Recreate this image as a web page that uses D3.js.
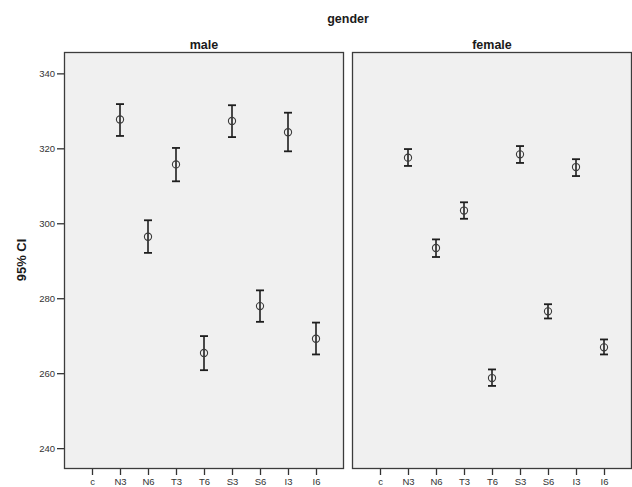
<!DOCTYPE html>
<html>
<head>
<meta charset="utf-8">
<script src="https://cdn.jsdelivr.net/npm/d3@7"></script>
<style>
  html, body { margin: 0; padding: 0; background: #ffffff; }
  svg { display: block; }
  text { font-family: "Liberation Sans", Arial, sans-serif; }
</style>
</head>
<body>
<div id="chart"></div>
<script>
// Categories on the x axis (c has no estimate)
const categories = ["c", "N3", "N6", "T3", "T6", "S3", "S6", "I3", "I6"];
const panels = ["male", "female"];
const yTicks = [240, 260, 280, 300, 320, 340];

// Mean and 95% CI bounds per category, male
const maleMean  = [null, 327.7, 296.4, 315.7, 265.4, 327.3, 277.9, 324.3, 269.2];
const maleLower = [null, 323.3, 292.1, 311.2, 260.8, 323.0, 273.7, 319.2, 265.0];
const maleUpper = [null, 331.8, 300.8, 320.1, 269.9, 331.5, 282.1, 329.5, 273.5];

// Mean and 95% CI bounds per category, female
const femaleMean  = [null, 317.5, 293.4, 303.4, 258.7, 318.4, 276.5, 315.0, 266.9];
const femaleLower = [null, 315.3, 291.0, 301.2, 256.6, 316.1, 274.6, 312.6, 265.0];
const femaleUpper = [null, 319.8, 295.7, 305.6, 261.0, 320.6, 278.4, 317.1, 269.0];

const W = 632, H = 487;
const plotTop = 52, plotBottom = 468;
const panelX = [[64, 344], [352, 632]];

const series = [
  { mean: maleMean, lower: maleLower, upper: maleUpper },
  { mean: femaleMean, lower: femaleLower, upper: femaleUpper }
];

const svg = d3.select("#chart").append("svg")
  .attr("width", W).attr("height", H);

const y = d3.scaleLinear().domain([234.7, 345.7]).range([plotBottom, plotTop]);

// Overall facet title
svg.append("text")
  .attr("x", (panelX[0][0] + panelX[1][1]) / 2).attr("y", 23)
  .attr("text-anchor", "middle")
  .style("font-size", "12.5px").style("font-weight", "bold").attr("fill", "#1a1a1a")
  .text("gender");

// Y axis title
svg.append("text")
  .attr("transform", `translate(26,${(plotTop + plotBottom) / 2}) rotate(-90)`)
  .attr("text-anchor", "middle")
  .style("font-size", "13px").style("font-weight", "bold").attr("fill", "#1a1a1a")
  .text("95% CI");

panels.forEach((name, i) => {
  const [x0, x1] = panelX[i];
  const x = d3.scalePoint().domain(categories).range([x0, x1]).padding(1);
  const g = svg.append("g");

  // Panel background and frame
  g.append("rect")
    .attr("x", x0 + 0.5).attr("y", plotTop + 0.5)
    .attr("width", x1 - x0 - 1).attr("height", plotBottom - plotTop)
    .attr("fill", "#f0f0f0").attr("stroke", "#3c3c3c").attr("stroke-width", 1.3);

  // Panel label
  g.append("text")
    .attr("x", (x0 + x1) / 2).attr("y", 49)
    .attr("text-anchor", "middle")
    .style("font-size", "12.5px").style("font-weight", "bold").attr("fill", "#1a1a1a")
    .text(name);

  // X axis
  const xAxis = g.append("g")
    .attr("transform", `translate(0,${plotBottom + 1})`)
    .call(d3.axisBottom(x).tickSize(6).tickPadding(3));
  xAxis.select(".domain").remove();
  xAxis.selectAll(".tick line").attr("stroke", "#333").attr("stroke-width", 1.3);
  xAxis.selectAll(".tick text")
    .style("font-size", "9.5px").style("font-family", "'Liberation Sans', Arial, sans-serif")
    .attr("fill", "#333");

  // Y axis on the first panel only
  if (i === 0) {
    const yAxis = g.append("g")
      .attr("transform", `translate(${x0},0)`)
      .call(d3.axisLeft(y).tickValues(yTicks).tickSize(7).tickPadding(2));
    yAxis.select(".domain").remove();
    yAxis.selectAll(".tick line").attr("stroke", "#333").attr("stroke-width", 1.3);
    yAxis.selectAll(".tick text")
      .style("font-size", "9.5px").style("font-family", "'Liberation Sans', Arial, sans-serif")
      .attr("fill", "#333");
  }

  const s = series[i];
  const rows = categories.map((c, k) => ({
    cat: c, mean: s.mean[k], lower: s.lower[k], upper: s.upper[k]
  })).filter(d => d.mean !== null);

  const bars = g.selectAll("g.bar").data(rows).enter().append("g").attr("class", "bar");
  const capHalf = 4;

  // CI whisker
  bars.append("line")
    .attr("x1", d => x(d.cat)).attr("x2", d => x(d.cat))
    .attr("y1", d => y(d.upper)).attr("y2", d => y(d.lower))
    .attr("stroke", "#1e1e1e").attr("stroke-width", 1.6);
  // Caps
  bars.append("line")
    .attr("x1", d => x(d.cat) - capHalf).attr("x2", d => x(d.cat) + capHalf)
    .attr("y1", d => y(d.upper)).attr("y2", d => y(d.upper))
    .attr("stroke", "#1e1e1e").attr("stroke-width", 1.8);
  bars.append("line")
    .attr("x1", d => x(d.cat) - capHalf).attr("x2", d => x(d.cat) + capHalf)
    .attr("y1", d => y(d.lower)).attr("y2", d => y(d.lower))
    .attr("stroke", "#1e1e1e").attr("stroke-width", 1.8);
  // Mean marker
  bars.append("circle")
    .attr("cx", d => x(d.cat)).attr("cy", d => y(d.mean))
    .attr("r", 3.6)
    .attr("fill", "#f0f0f0").attr("fill-opacity", 0)
    .attr("stroke", "#3a3a3a").attr("stroke-width", 1.1);
});
</script>
</body>
</html>
